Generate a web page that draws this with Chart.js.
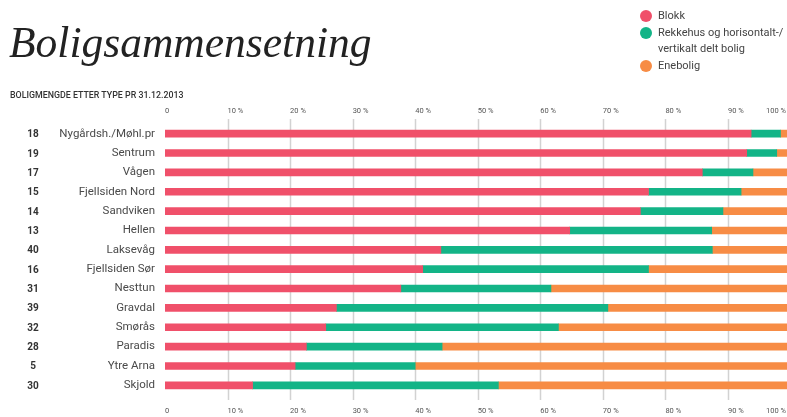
<!DOCTYPE html>
<html>
<head>
<meta charset="utf-8">
<script src="https://cdn.jsdelivr.net/npm/chart.js@4"></script>
<style>
  html, body { margin: 0; padding: 0; background: #fff; overflow: hidden; width: 787px; height: 417px; }
  #wrap { position: absolute; left: 0; top: 0; width: 800px; height: 417px; }
  #title { position: absolute; left: 9px; top: 17px; font-family: "Liberation Serif", serif; font-style: italic; font-size: 43.5px; color: #222; white-space: nowrap; }
  #sub { position: absolute; left: 10px; top: 89px; font-family: Roboto, sans-serif; font-weight: 500; font-size: 9.5px; color: #333; white-space: nowrap; transform: scaleX(0.93); transform-origin: left top; }
  #legend { position: absolute; left: 640px; top: 8px; font-family: Roboto, sans-serif; font-size: 11px; color: #444; white-space: nowrap; }
  .item { position: relative; padding-left: 18px; line-height: 16.7px; }
  .dot { position: absolute; left: 0; top: 2px; width: 12px; height: 12px; border-radius: 50%; }
</style>
</head>
<body>
<div id="wrap"><canvas id="c" width="800" height="417"></canvas></div>
<div id="title">Boligsammensetning</div>
<div id="sub">BOLIGMENGDE ETTER TYPE PR 31.12.2013</div>
<div id="legend"></div>
<script>
const categories = ['Nygårdsh./Møhl.pr', 'Sentrum', 'Vågen', 'Fjellsiden Nord', 'Sandviken', 'Hellen', 'Laksevåg',
  'Fjellsiden Sør', 'Nesttun', 'Gravdal', 'Smørås', 'Paradis', 'Ytre Arna', 'Skjold'];
const counts = [18, 19, 17, 15, 14, 13, 40, 16, 31, 39, 32, 28, 5, 30];
const blokk = [93.7, 93.0, 85.9, 77.3, 76.0, 64.7, 44.1, 41.2, 37.7, 27.4, 25.7, 22.6, 20.8, 14.0];
const rekkehus = [4.7, 4.8, 8.1, 14.8, 13.2, 22.7, 43.4, 36.1, 24.0, 43.4, 37.2, 21.7, 19.2, 39.3];
const enebolig = [1.6, 2.2, 6.0, 7.9, 10.8, 12.6, 12.5, 22.7, 38.3, 29.2, 37.1, 55.7, 60.0, 46.7];
const xTicks = [0, 10, 20, 30, 40, 50, 60, 70, 80, 90, 100];

const seriesNames = ['Blokk', ['Rekkehus og horisontalt-/', 'vertikalt delt bolig'], 'Enebolig'];
const colors = ['#f0506a', '#13b487', '#f78c45'];

// legend
const legendEl = document.getElementById('legend');
seriesNames.forEach((name, i) => {
  const lines = Array.isArray(name) ? name : [name];
  const div = document.createElement('div');
  div.className = 'item';
  div.innerHTML = '<span class="dot" style="background:' + colors[i] + '"></span>' + lines.join('<br>');
  legendEl.appendChild(div);
});

// gridlines + top/bottom percent labels
const gridPlugin = {
  id: 'grid',
  beforeDatasetsDraw(chart) {
    const ctx = chart.ctx;
    const xs = chart.scales.x;
    ctx.save();
    ctx.strokeStyle = '#d2d2d2';
    ctx.lineWidth = 1.5;
    xTicks.forEach(v => {
      if (v === 0) return;
      const x = Math.round(xs.getPixelForValue(v)) + 0.5;
      ctx.beginPath();
      ctx.moveTo(x, 119);
      ctx.lineTo(x, 400);
      ctx.stroke();
    });
    ctx.restore();
  },
  afterDraw(chart) {
    const ctx = chart.ctx;
    const xs = chart.scales.x;
    const ys = chart.scales.y;
    ctx.save();
    ctx.font = '7.5px Roboto, sans-serif';
    ctx.fillStyle = '#555';
    ctx.textBaseline = 'middle';
    xTicks.forEach(v => {
      const txt = v === 0 ? '0' : v + ' %';
      let x = xs.getPixelForValue(v);
      const w = ctx.measureText(txt).width;
      if (x + w > 786) x = 786 - w;
      ctx.fillText(txt, x, 111);
      ctx.fillText(txt, x, 411);
    });
    // counts column
    ctx.font = 'bold 10px Roboto, sans-serif';
    ctx.fillStyle = '#333';
    ctx.textAlign = 'center';
    counts.forEach((n, i) => {
      ctx.fillText(String(n), 33, ys.getPixelForValue(i) + 1);
    });
    ctx.restore();
  }
};

new Chart(document.getElementById('c'), {
  type: 'bar',
  data: {
    labels: categories,
    datasets: [
      { label: 'Blokk', data: blokk, backgroundColor: colors[0] },
      { label: 'Rekkehus og horisontalt-/vertikalt delt bolig', data: rekkehus, backgroundColor: colors[1] },
      { label: 'Enebolig', data: enebolig, backgroundColor: colors[2] }
    ]
  },
  options: {
    indexAxis: 'y',
    responsive: false,
    animation: false,
    events: [],
    datasets: { bar: { barThickness: 7, borderWidth: 0 } },
    layout: { padding: { left: 0, right: 9.5, top: 124, bottom: 22 } },
    scales: {
      x: { stacked: true, min: 0, max: 100, display: false },
      y: {
        stacked: true,
        afterFit: s => { s.width = 165; },
        grid: { display: false, drawTicks: false },
        border: { display: false },
        ticks: { padding: 10, color: '#4a4a4a', font: { family: 'Roboto', size: 11.5 } }
      }
    },
    plugins: { legend: { display: false }, tooltip: { enabled: false } }
  },
  plugins: [gridPlugin]
});
</script>
</body>
</html>
